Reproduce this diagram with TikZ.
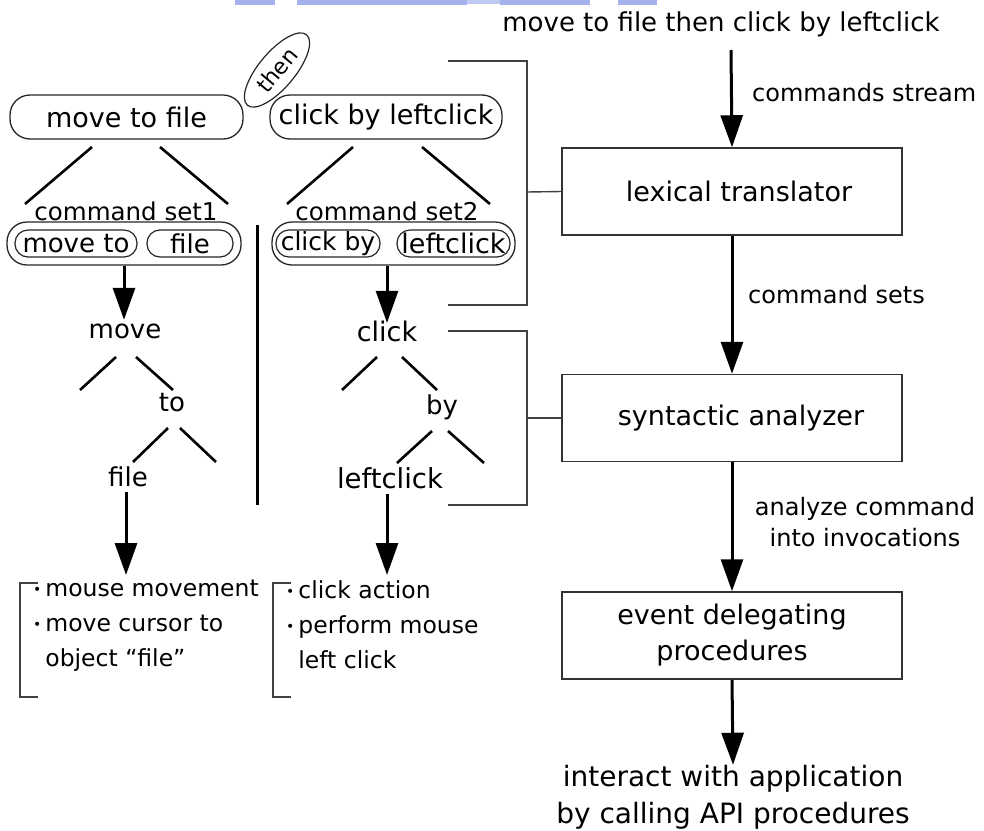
\documentclass[tikz,border=0pt]{standalone}
\usepackage{fontspec}
\setmainfont{DejaVu Sans}
\usetikzlibrary{arrows.meta,shapes.geometric}

\definecolor{stripblue}{RGB}{165,178,238}

\tikzset{
  fs/.style={font=\fontsize{#1}{#1}\selectfont},
  procbox/.style={draw=black!80, line width=1.5pt, minimum width=340pt,
    minimum height=87pt, align=center, inner sep=0pt,
    font=\fontsize{27}{36}\selectfont},
  pill/.style={draw=black!85, line width=1.3pt, rounded corners=20pt,
    inner sep=0pt},
  smallpill/.style={draw=black!85, line width=1.2pt, rounded corners=13pt,
    inner sep=0pt, minimum height=27pt},
  word/.style={inner sep=0pt, text height=18pt, text depth=6pt,
    font=\fontsize{26}{26}\selectfont},
  branch/.style={line width=2.6pt},
  flow/.style={line width=3pt, -{Triangle[length=32pt,width=22pt]}},
  brk/.style={draw=black!75, line width=1.4pt},
  label/.style={font=\fontsize{24}{31}\selectfont, inner sep=0pt},
  bullets/.style={align=left, inner sep=0pt, anchor=north west,
    font=\fontsize{23.5}{35}\selectfont},
}
\newcommand{\bul}{{\fontsize{14}{14}\selectfont\raisebox{2pt}{•}}\,}
\newcommand{\bulgap}{\hphantom{\bul}}

\begin{document}
\begin{tikzpicture}[x=1pt, y=-1pt]
  \useasboundingbox (0,0) rectangle (984,830);

  % strip left over along the top edge
  \fill[stripblue] (235,0) rectangle (275,5);
  \fill[stripblue] (297,0) rectangle (467,5);
  \fill[stripblue!70] (467,0) rectangle (500,4);
  \fill[stripblue] (500,0) rectangle (590,5);
  \fill[stripblue] (618,0) rectangle (657,5);

  % ---------------- pipeline on the right ----------------
  \node[fs=26, inner sep=0pt] (cmdline) at (721,24) {move to file then click by leftclick};
  \coordinate (streamtop) at (731,50);

  \node[procbox] (lex) at (732,191.5) {\hspace*{14pt}lexical translator};
  \node[procbox] (syn) at (732,418) {\hspace*{18pt}syntactic analyzer};
  \node[procbox] (evt) at (732,635.5) {event delegating\\procedures};
  \node[align=center, inner sep=0pt, font=\fontsize{28}{37}\selectfont]
    (api) at (733,797) {interact with application\\by calling API procedures};

  \draw[flow] (streamtop) -- (lex.north);
  \draw[flow] (lex.south) -- (syn.north);
  \draw[flow] (syn.south) -- (evt.north);
  \draw[flow] (evt.south) -- (api.north);

  \node[label, anchor=west] (lstream) at (752,93) {commands stream};
  \node[label, anchor=west] (lsets) at (748,295) {command sets};
  \node[label, align=center] (linv) at (865,522) {analyze command\\into invocations};

  % brackets tying the left-hand stages to the boxes
  \coordinate (b1) at (527,192);
  \coordinate (b2) at (527,418);
  \draw[brk] (448,61) -- (527,61) -- (527,305) -- (448,305);
  \draw[brk] (b1) -- (lex.west);
  \draw[brk] (448,331) -- (527,331) -- (527,505) -- (448,505);
  \draw[brk] (b2) -- (syn.west);

  % ---------------- the two commands ----------------
  \node[pill, minimum width=233pt, minimum height=44pt, fs=27] (mtf) at (126.5,117) {move to file};
  \node[pill, minimum width=232pt, minimum height=44pt, fs=27] (cbl) at (386,117) {click by leftclick};
  \node[draw=black!85, line width=1.2pt, ellipse, rotate=50, minimum width=92pt,
    minimum height=36pt, inner sep=0pt, fs=22] (then) at (277,70) {then};

  \draw[branch] (92,147) -- (25,204);
  \draw[branch] (160,147) -- (228,204);
  \draw[branch] (353,147) -- (287,204);
  \draw[branch] (422,147) -- (490,204);

  \node[fs=24.5, inner sep=0pt] (set1) at (126,211) {command set1};
  \node[fs=24.5, inner sep=0pt] (set2) at (387,211) {command set2};

  % command set 1
  \node[pill, minimum width=234pt, minimum height=43pt] (cs1) at (124,243.5) {};
  \node[smallpill, minimum width=122pt] (p1) at (76,243.5) {};
  \node[smallpill, minimum width=86pt] (p2) at (190,243.5) {};
  \node[fs=26, inner sep=0pt] at (p1) {move to};
  \node[fs=26, inner sep=0pt] at (p2) {file};

  % command set 2
  \node[pill, minimum width=243pt, minimum height=43pt] (cs2) at (393.5,243.5) {};
  \node[smallpill, minimum width=104pt] (p3) at (328,243.5) {};
  \node[smallpill, minimum width=113pt] (p4) at (453.5,243.5) {};
  \node[fs=25, inner sep=0pt] at (p3) {click by};
  \node[fs=27, inner sep=0pt] at (p4) {leftclick};

  % divider between the two parse trees
  \draw[line width=3pt] (257,225) -- (257,505);

  % ---------------- parse tree 1 ----------------
  \node[word] (mv) at (125,332) {move};
  \node[word] (to) at (172,405) {to};
  \node[word] (fl) at (128,480) {file};
  \draw[flow] (cs1.south) -- (cs1.south |- mv.north);
  \draw[branch] (116,357) -- (80,390);
  \draw[branch] (136,357) -- (173,390);
  \draw[branch] (168,428) -- (133,462);
  \draw[branch] (180,428) -- (216,462);
  \coordinate (act1) at (126,575);
  \draw[flow] (fl.south -| act1) -- (act1);

  % ---------------- parse tree 2 ----------------
  \node[word, fs=27] (ck) at (387,335) {click};
  \node[word] (by) at (442,408) {by};
  \node[word, fs=27.5] (lc) at (390,482) {leftclick};
  \draw[flow] (cs2.south -| ck.north) -- (ck.north);
  \draw[branch] (377,357) -- (342,390);
  \draw[branch] (402,357) -- (437,390);
  \draw[branch] (432,431) -- (397,463);
  \draw[branch] (448,431) -- (484,463);
  \coordinate (act2) at (387,575);
  \draw[flow] (lc.south -| act2) -- (act2);

  % ---------------- resulting actions ----------------
  \draw[brk] (38,583) -- (20,583) -- (20,697) -- (38,697);
  \draw[brk] (291,583) -- (273,583) -- (273,697) -- (291,697);
  \node[bullets] (acts1) at (33,580)
    {\bul mouse movement\\\bul move cursor to\\\bulgap object “file”};
  \node[bullets] (acts2) at (286,580)
    {\bul click action\\\bul perform mouse\\\bulgap left click};
\end{tikzpicture}
\end{document}
